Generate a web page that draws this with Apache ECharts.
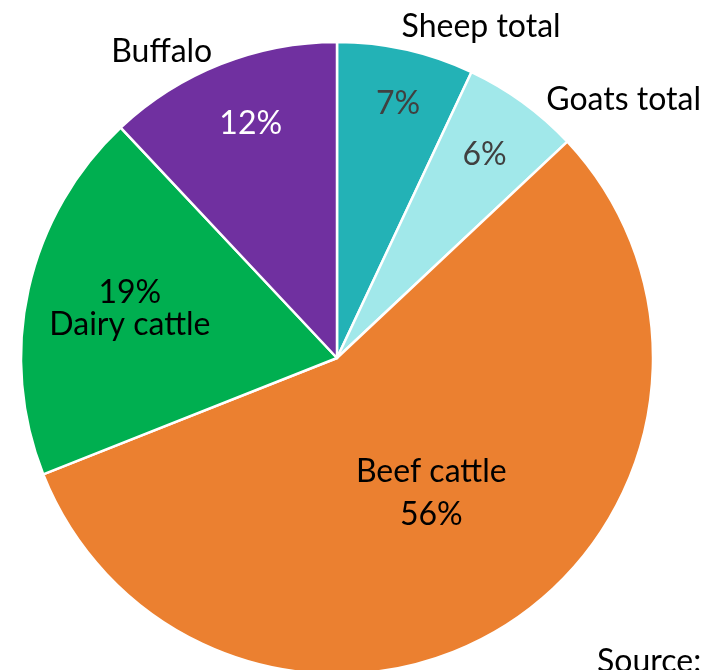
<!DOCTYPE html>
<html>
<head>
<meta charset="utf-8">
<script src="https://cdn.jsdelivr.net/npm/echarts@6/dist/echarts.min.js"></script>
<style>
  html, body { margin: 0; padding: 0; background: #fff; }
  #chart { width: 717px; height: 670px; }
</style>
</head>
<body>
<div id="chart"></div>
<script>
// Livestock groups, clockwise from 12 o'clock
const categories = ['Sheep total', 'Goats total', 'Beef cattle', 'Dairy cattle', 'Buffalo'];
const shares = [7, 6, 56, 19, 12];
const sliceColors = ['#23B2B6', '#A1E8EA', '#EB8030', '#00AF50', '#7030A0'];
const percentColors = ['#404040', '#404040', '#000000', '#000000', '#FFFFFF'];

// Which groups carry their name outside the pie
const outsideNames = ['Sheep total', 'Goats total', 'Buffalo'];

// Nudges for the in-slice labels and for the outer names
const innerShift = {
  'Sheep total': [26, -97],
  'Goats total': [53, -73],
  'Beef cattle': [8, -1],
  'Dairy cattle': [-50, -14],
  'Buffalo': [-27, -85]
};
const outerShift = {
  'Sheep total': [109, -174],
  'Goats total': [192, -128],
  'Buffalo': [-116, -157]
};
const lineHeights = { 'Beef cattle': 43, 'Dairy cattle': 32 };

const FONT = 'Lato';
const SIZE = 32;

const pieData = categories.map((name, i) => ({
  name: name,
  value: shares[i],
  itemStyle: { color: sliceColors[i] },
  label: { color: percentColors[i], lineHeight: lineHeights[name] || 36 }
}));

const chart = echarts.init(document.getElementById('chart'), null, { renderer: 'canvas' });

chart.setOption({
  animation: false,
  backgroundColor: '#ffffff',
  series: [
    {
      type: 'pie',
      center: [337, 358],
      radius: 316,
      startAngle: 90,
      clockwise: true,
      avoidLabelOverlap: false,
      itemStyle: { borderColor: '#ffffff', borderWidth: 2.5 },
      label: {
        show: true,
        position: 'inside',
        fontFamily: FONT,
        fontSize: SIZE,
        formatter: (p) => {
          if (p.name === 'Beef cattle') return p.name + '\n' + p.value + '%';
          if (p.name === 'Dairy cattle') return p.value + '%\n' + p.name;
          return p.value + '%';
        }
      },
      labelLayout: (params) => {
        const s = innerShift[categories[params.dataIndex]];
        return { dx: s[0], dy: s[1] };
      },
      emphasis: { disabled: true },
      data: pieData
    },
    {
      // transparent copy that only carries the outer names
      type: 'pie',
      center: [337, 358],
      radius: 316,
      startAngle: 90,
      clockwise: true,
      silent: true,
      avoidLabelOverlap: false,
      itemStyle: { color: 'rgba(0,0,0,0)', borderWidth: 0 },
      label: {
        show: true,
        position: 'inside',
        fontFamily: FONT,
        fontSize: SIZE,
        color: '#000000',
        formatter: (p) => outsideNames.includes(p.name) ? p.name : ''
      },
      labelLine: { show: false },
      labelLayout: (params) => {
        const s = outerShift[categories[params.dataIndex]] || [0, 0];
        return { dx: s[0], dy: s[1] };
      },
      emphasis: { disabled: true },
      data: categories.map((name, i) => ({ name: name, value: shares[i] }))
    }
  ],
  graphic: [
    {
      type: 'text',
      left: 597,
      top: 646,
      style: { text: 'Source:', font: SIZE + 'px ' + FONT, fill: '#000000' }
    }
  ]
});
</script>
</body>
</html>
